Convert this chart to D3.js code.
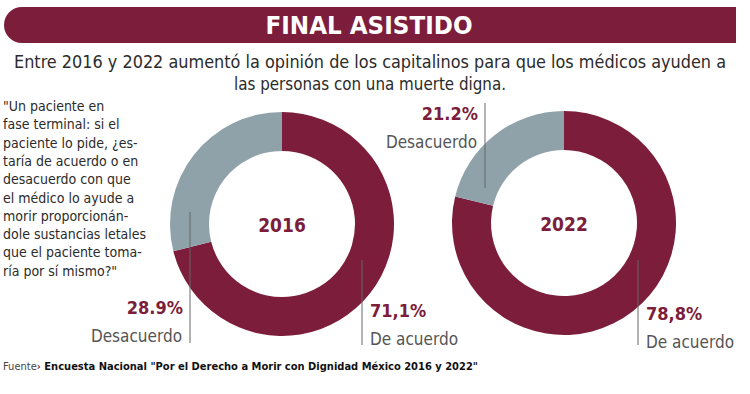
<!DOCTYPE html>
<html>
<head>
<meta charset="utf-8">
<script src="https://cdn.jsdelivr.net/npm/d3@7"></script>
<style>
  body { margin: 0; background: #fff; }
  svg { display: block; }
  text { font-family: "DejaVu Sans Condensed", "Liberation Sans Narrow", "Roboto", sans-serif; }
</style>
</head>
<body>
<div id="chart"></div>
<script>
// data
var years = ["2016", "2022"];
var categories = ["De acuerdo", "Desacuerdo"];
var deAcuerdo = [71.1, 78.8];
var desacuerdo = [28.9, 21.2];
var deAcuerdoLabels = ["71,1%", "78,8%"];
var desacuerdoLabels = ["28.9%", "21.2%"];

var title = "FINAL ASISTIDO";
var subtitle = ["Entre 2016 y 2022 aumentó la opinión de los capitalinos para que los médicos ayuden a",
                "las personas con una muerte digna."];
var question = ["\"Un paciente en", "fase terminal: si el", "paciente lo pide, ¿es-",
  "taría de acuerdo o en", "desacuerdo con que", "el médico lo ayude a",
  "morir proporcionán-", "dole sustancias letales", "que el paciente toma-",
  "ría por sí mismo?\""];
var sourceLabel = "Fuente";
var sourceText = "Encuesta Nacional \"Por el Derecho a Morir con Dignidad México 2016 y 2022\"";

var maroon = "#7c1d3c";
var grey = "#8fa1a9";

var W = 750, H = 394;
var svg = d3.select("#chart").append("svg").attr("width", W).attr("height", H);

// header bar, rounded on the left only
svg.append("path")
  .attr("d", "M22,7 H736 V43 H22 A18,18 0 0 1 22,7 Z")
  .attr("fill", maroon);
svg.append("text")
  .attr("x", 369).attr("y", 34)
  .attr("text-anchor", "middle")
  .attr("fill", "#fff")
  .attr("font-size", 25).attr("font-weight", "bold")
  .attr("textLength", 207).attr("lengthAdjust", "spacingAndGlyphs")
  .text(title);

svg.selectAll(".sub").data(subtitle).enter().append("text")
  .attr("class", "sub")
  .attr("x", 370).attr("y", function(d, i) { return 68 + i * 22; })
  .attr("text-anchor", "middle")
  .attr("fill", "#2b2b2b")
  .attr("font-size", 17)
  .attr("textLength", function(d, i) { return i == 0 ? 712 : 272; })
  .attr("lengthAdjust", "spacingAndGlyphs")
  .text(function(d) { return d; });

// question block on the left
svg.selectAll(".q").data(question).enter().append("text")
  .attr("class", "q")
  .attr("x", 3).attr("y", function(d, i) { return 111 + i * 18.3; })
  .attr("fill", "#2b2b2b")
  .attr("font-size", 14)
  .text(function(d) { return d; });

// donuts
var R = 112, r = 73;
var pie = d3.pie().sort(null).value(function(d) { return d.value; });
var arc = d3.arc().innerRadius(r).outerRadius(R);
var color = d3.scaleOrdinal().domain(categories).range([maroon, grey]);

// annotation placement relative to each donut centre
var layout = [
  { cx: 282, cy: 224,
    dis: { x: -92, y1: -12, y2: 119, ty: 90, side: "left" },
    agr: { x: 80, y1: 36, y2: 121, ty: 93 } },
  { cx: 564, cy: 223,
    dis: { x: -79, y1: -120, y2: -35, ty: -103, side: "left" },
    agr: { x: 74, y1: 37, y2: 122, ty: 97 } }
];

years.forEach(function(yr, i) {
  var L = layout[i];
  var g = svg.append("g").attr("transform", "translate(" + L.cx + "," + L.cy + ")");
  var vals = [{ key: categories[0], value: deAcuerdo[i] }, { key: categories[1], value: desacuerdo[i] }];

  g.selectAll("path").data(pie(vals)).enter().append("path")
    .attr("d", arc)
    .attr("fill", function(d) { return color(d.data.key); });

  g.append("text")
    .attr("y", 8).attr("text-anchor", "middle")
    .attr("fill", maroon).attr("font-size", 19).attr("font-weight", "bold")
    .text(yr);

  // desacuerdo label
  g.append("line")
    .attr("x1", L.dis.x).attr("x2", L.dis.x)
    .attr("y1", L.dis.y1).attr("y2", L.dis.y2)
    .attr("stroke", "#666").attr("stroke-width", 1);
  g.append("text")
    .attr("x", L.dis.x - 7).attr("y", L.dis.ty)
    .attr("text-anchor", "end")
    .attr("fill", maroon).attr("font-size", 18).attr("font-weight", "bold")
    .text(desacuerdoLabels[i]);
  g.append("text")
    .attr("x", L.dis.x - 8).attr("y", L.dis.ty + 28)
    .attr("text-anchor", "end")
    .attr("fill", "#555").attr("font-size", 17)
    .text(categories[1]);

  // de acuerdo label
  g.append("line")
    .attr("x1", L.agr.x).attr("x2", L.agr.x)
    .attr("y1", L.agr.y1).attr("y2", L.agr.y2)
    .attr("stroke", "#666").attr("stroke-width", 1);
  g.append("text")
    .attr("x", L.agr.x + 8).attr("y", L.agr.ty)
    .attr("fill", maroon).attr("font-size", 18).attr("font-weight", "bold")
    .text(deAcuerdoLabels[i]);
  g.append("text")
    .attr("x", L.agr.x + 8).attr("y", L.agr.ty + 28)
    .attr("fill", "#555").attr("font-size", 17)
    .text(categories[0]);
});

// source line
var src = svg.append("text").attr("x", 3).attr("y", 370).attr("font-size", 11)
  .attr("textLength", 475).attr("lengthAdjust", "spacingAndGlyphs");
src.append("tspan").attr("fill", "#444").text(sourceLabel);
src.append("tspan").attr("fill", maroon).attr("font-weight", "bold").text("› ");
src.append("tspan").attr("fill", "#111").attr("font-weight", "bold").text(sourceText);
</script>
</body>
</html>
